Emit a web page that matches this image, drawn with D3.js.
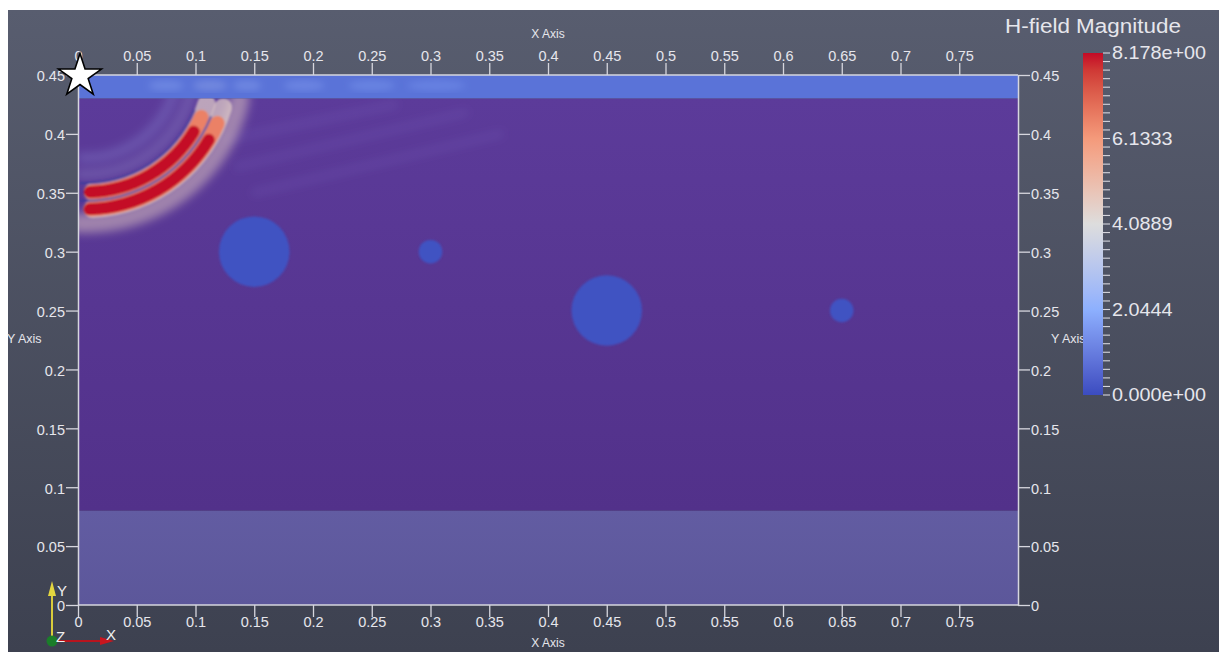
<!DOCTYPE html>
<html>
<head>
<meta charset="utf-8">
<script src="https://cdn.jsdelivr.net/npm/d3@7"></script>
<style>
  html, body { margin: 0; padding: 0; background: #ffffff; }
  svg { display: block; font-family: "Liberation Sans", Arial, sans-serif; }
</style>
</head>
<body>
<svg id="chart" width="1230" height="652"></svg>
<script>
// ---- model extents and axis ticks (metres) ----
const xDomain = [0, 0.8];
const yDomain = [0, 0.45];
const xTicks = [0, 0.05, 0.1, 0.15, 0.2, 0.25, 0.3, 0.35, 0.4, 0.45, 0.5, 0.55, 0.6, 0.65, 0.7, 0.75];
const yTicks = [0, 0.05, 0.1, 0.15, 0.2, 0.25, 0.3, 0.35, 0.4, 0.45];

// ---- material layers (top / bottom of each) ----
const layerNames  = ["surface", "host", "base"];
const layerTop    = [0.45, 0.43, 0.08];
const layerBottom = [0.43, 0.08, 0.0];

// ---- buried circular targets ----
const targetX = [0.15, 0.30, 0.45, 0.65];
const targetY = [0.30, 0.30, 0.25, 0.25];
const targetR = [0.03, 0.01, 0.03, 0.01];

// ---- transmitter position ----
const sourceX = 0.0;
const sourceY = 0.45;

// ---- H-field snapshot: expanding pulse fronts around the launch point ----
const waveCenter  = [0.007, 0.4575];
const pulseRadius = [0.1072, 0.1217];
const pulseMag    = [8.178, 8.178];
const haloRadius  = [0.078, 0.092, 0.1335];
const haloMag     = [2.5, 3.0, 4.6];
const nodeRadius  = [0.0996, 0.1145];

// faint head waves trailing along the surface layer
const headX0 = [0.125, 0.135, 0.15];
const headY0 = [0.395, 0.372, 0.35];
const headX1 = [0.27, 0.33, 0.36];
const headY1 = [0.425, 0.418, 0.40];

// bright patches carried in the surface layer
const surfX0 = [0.06, 0.098, 0.132, 0.175, 0.23, 0.28];
const surfX1 = [0.09, 0.127, 0.156, 0.21, 0.27, 0.33];
const surfMag = [2.4, 2.9, 2.5, 2.3, 2.1, 1.9];

// ---- colour bar ----
const cbarValues = [0, 2.0444, 4.0889, 6.1333, 8.178];
const cbarLabels = ["0.000e+00", "2.0444", "4.0889", "6.1333", "8.178e+00"];
const cbarColors = ["#3b4cc0", "#8db0fe", "#dddddd", "#f49a7b", "#c40a26"];
const cbarMinorCount = 40;

const svg = d3.select("#chart");
const defs = svg.append("defs");

// scales
const x = d3.scaleLinear().domain(xDomain).range([78, 1018]);
const y = d3.scaleLinear().domain(yDomain).range([605, 75]);
const cmap = d3.scaleLinear().domain(cbarValues).range(cbarColors).interpolate(d3.interpolateLab);
const px = v => x(v) - x(0);

// background panel gradient
const bg = defs.append("linearGradient").attr("id", "bg").attr("x1", 0).attr("y1", 0).attr("x2", 0).attr("y2", 1);
bg.append("stop").attr("offset", "0%").attr("stop-color", "#585d6f");
bg.append("stop").attr("offset", "100%").attr("stop-color", "#3d4150");
svg.append("rect").attr("x", 8).attr("y", 10).attr("width", 1211).attr("height", 642).attr("fill", "url(#bg)");

// layer fills
const hostGrad = defs.append("linearGradient").attr("id", "hostGrad").attr("x1", 0).attr("y1", 0).attr("x2", 0).attr("y2", 1);
hostGrad.append("stop").attr("offset", "0%").attr("stop-color", "#5c3b9a");
hostGrad.append("stop").attr("offset", "100%").attr("stop-color", "#52318a");
const baseGrad = defs.append("linearGradient").attr("id", "baseGrad").attr("x1", 0).attr("y1", 0).attr("x2", 0).attr("y2", 1);
baseGrad.append("stop").attr("offset", "0%").attr("stop-color", "#625ca2");
baseGrad.append("stop").attr("offset", "100%").attr("stop-color", "#5c579a");
const layerFill = ["#5a73d8", "url(#hostGrad)", "url(#baseGrad)"];

svg.append("g").selectAll("rect").data(layerNames).join("rect")
  .attr("x", x(xDomain[0]))
  .attr("width", x(xDomain[1]) - x(xDomain[0]))
  .attr("y", (d, i) => y(layerTop[i]))
  .attr("height", (d, i) => y(layerBottom[i]) - y(layerTop[i]))
  .attr("fill", (d, i) => layerFill[i]);

// filters
const mkBlur = (id, s) => defs.append("filter").attr("id", id)
  .attr("x", "-20%").attr("y", "-20%").attr("width", "140%").attr("height", "140%")
  .append("feGaussianBlur").attr("stdDeviation", s);
mkBlur("blurS", 1.3);
mkBlur("blurM", 3.5);
mkBlur("blurL", 5);

// surface-layer patches
defs.append("clipPath").attr("id", "surfClip").append("rect")
  .attr("x", x(0)).attr("y", y(layerTop[0]))
  .attr("width", x(0.8) - x(0)).attr("height", y(layerBottom[0]) - y(layerTop[0]));
svg.append("g").attr("clip-path", "url(#surfClip)")
  .append("g").attr("filter", "url(#blurM)")
  .selectAll("ellipse").data(surfX0).join("ellipse")
  .attr("cx", (d, i) => x((surfX0[i] + surfX1[i]) / 2))
  .attr("cy", y(0.441))
  .attr("rx", (d, i) => (x(surfX1[i]) - x(surfX0[i])) / 2)
  .attr("ry", 5)
  .attr("fill", (d, i) => cmap(surfMag[i]))
  .attr("opacity", 0.28);

// targets
svg.append("g").attr("filter", "url(#blurS)")
  .selectAll("circle").data(targetX).join("circle")
  .attr("cx", (d, i) => x(targetX[i]))
  .attr("cy", (d, i) => y(targetY[i]))
  .attr("r", (d, i) => px(targetR[i]))
  .attr("fill", "#3f52c2");

// wave field, clipped to the host layer
defs.append("clipPath").attr("id", "hostClip").append("rect")
  .attr("x", x(0)).attr("y", y(layerTop[1]))
  .attr("width", x(0.8) - x(0)).attr("height", y(layerBottom[1]) - y(layerTop[1]));
const wave = svg.append("g").attr("clip-path", "url(#hostClip)");

// head waves
wave.append("g").attr("filter", "url(#blurL)")
  .selectAll("line").data(headX0).join("line")
  .attr("x1", (d, i) => x(headX0[i])).attr("y1", (d, i) => y(headY0[i]))
  .attr("x2", (d, i) => x(headX1[i])).attr("y2", (d, i) => y(headY1[i]))
  .attr("stroke", "#8a7bd0").attr("stroke-width", 5).attr("stroke-linecap", "round")
  .attr("opacity", 0.22);

const wc = wave.append("g").attr("transform", `translate(${x(waveCenter[0])},${y(waveCenter[1])})`);
const ring = (r, w, a0, a1) => d3.arc()
  .innerRadius(px(r) - w / 2).outerRadius(px(r) + w / 2)
  .startAngle(a0).endAngle(a1).cornerRadius(w / 2)();

// broad halos
wc.append("g").attr("filter", "url(#blurL)")
  .selectAll("path").data(haloRadius).join("path")
  .attr("d", (d, i) => ring(d, i === 2 ? 20 : 10, 1.72, 3.25))
  .attr("fill", (d, i) => cmap(haloMag[i]))
  .attr("opacity", (d, i) => i === 2 ? 0.5 : 0.22);

// pulse fronts: white rim, salmon flank, red core
const pulses = wc.append("g").attr("filter", "url(#blurS)");
const pulseLayers = [
  { w: 18, a0: 1.80, f: 4.5, o: 0.7 },
  { w: 15, a0: 1.93, f: 6.6, o: 1 },
  { w: 12, a0: 2.07, f: null, o: 1 }
];
pulseLayers.forEach(L => {
  pulses.append("g").selectAll("path").data(pulseRadius).join("path")
    .attr("d", d => ring(d, L.w, L.a0, 3.16))
    .attr("fill", (d, i) => cmap(L.f === null ? pulseMag[i] : L.f))
    .attr("opacity", L.o);
});
// nodal lines between fronts
pulses.append("g").selectAll("path").data(nodeRadius).join("path")
  .attr("d", d => ring(d, 2, 1.95, 3.2))
  .attr("fill", "#343b9e")
  .attr("opacity", 0.8);

// axes
const textColor = "#e6e6ec";
const lineColor = "#d6d6de";
function styleAxis(g) {
  g.select(".domain").attr("stroke", lineColor).attr("stroke-width", 1.5);
  g.selectAll(".tick line").attr("stroke", lineColor).attr("stroke-width", 1.3);
  g.selectAll(".tick text").attr("fill", textColor).attr("font-size", 14.5)
    .attr("font-family", "Liberation Sans, Arial, sans-serif");
}
const fmt = d => String(d);

const gTop = svg.append("g").attr("transform", `translate(0,${y(0.45)})`)
  .call(d3.axisTop(x).tickValues(xTicks).tickFormat(fmt).tickSize(12).tickSizeOuter(0));
styleAxis(gTop);
gTop.select(".domain").attr("d", `M${x(0)},0H${x(0.8)}`);
gTop.selectAll(".tick text").attr("y", -14).attr("dy", null);

const gBot = svg.append("g").attr("transform", `translate(0,${y(0)})`)
  .call(d3.axisBottom(x).tickValues(xTicks).tickFormat(fmt).tickSize(12).tickSizeOuter(0));
styleAxis(gBot);
gBot.select(".domain").attr("d", `M${x(0)},0H${x(0.8)}`);
gBot.selectAll(".tick text").attr("y", 22).attr("dy", null);

const gLeft = svg.append("g").attr("transform", `translate(${x(0)},0)`)
  .call(d3.axisLeft(y).tickValues(yTicks).tickFormat(fmt).tickSize(12).tickSizeOuter(0));
styleAxis(gLeft);
gLeft.selectAll(".tick text").attr("x", -13).attr("dy", "0.4em");

const gRight = svg.append("g").attr("transform", `translate(${x(0.8)},0)`)
  .call(d3.axisRight(y).tickValues(yTicks).tickFormat(fmt).tickSize(12).tickSizeOuter(0));
styleAxis(gRight);
gRight.selectAll(".tick text").attr("x", 13).attr("dy", "0.4em");

// axis titles
const axTitle = (tx, ty, anchor) => svg.append("text").attr("x", tx).attr("y", ty)
  .attr("text-anchor", anchor).attr("fill", textColor).attr("font-size", 12).text("X Axis");
axTitle(x(0.4), 38, "middle");
axTitle(x(0.4), 647, "middle");
svg.append("text").attr("x", 7).attr("y", y(0.225) + 3).attr("fill", textColor)
  .attr("font-size", 12.5).text("Y Axis");
svg.append("text").attr("x", 1051).attr("y", y(0.225) + 3).attr("fill", textColor)
  .attr("font-size", 12.5).text("Y Axis");

// transmitter marker
svg.append("path")
  .attr("transform", `translate(${x(sourceX) + 2},${y(sourceY) + 1})`)
  .attr("d", d3.symbol(d3.symbolStar, 570)())
  .attr("fill", "#ffffff").attr("stroke", "#000000").attr("stroke-width", 1.6)
  .attr("stroke-linejoin", "miter");

// colour bar
const cb = d3.scaleLinear().domain([0, 8.178]).range([395, 53]);
const cbGrad = defs.append("linearGradient").attr("id", "cbGrad").attr("x1", 0).attr("y1", 1).attr("x2", 0).attr("y2", 0);
d3.range(0, 21).forEach(k => {
  cbGrad.append("stop").attr("offset", `${k * 5}%`).attr("stop-color", cmap(8.178 * k / 20));
});
svg.append("rect").attr("x", 1083).attr("y", cb(8.178)).attr("width", 20)
  .attr("height", cb(0) - cb(8.178)).attr("fill", "url(#cbGrad)");
const minorVals = d3.range(0, cbarMinorCount + 1).map(k => 8.178 * k / cbarMinorCount);
svg.append("g").selectAll("line").data(minorVals).join("line")
  .attr("x1", 1103).attr("x2", 1110)
  .attr("y1", d => cb(d)).attr("y2", d => cb(d))
  .attr("stroke", lineColor).attr("stroke-width", 1.1);
svg.append("g").selectAll("text").data(cbarValues).join("text")
  .attr("x", 1112).attr("y", d => cb(d)).attr("dy", "0.36em")
  .attr("fill", textColor).attr("font-size", 18)
  .attr("transform", d => `translate(${1112 * -0.1},0) scale(1.1,1)`)
  .text((d, i) => cbarLabels[i]);
svg.append("text").attr("x", 1181).attr("y", 33).attr("text-anchor", "end")
  .attr("fill", textColor).attr("font-size", 19.5)
  .attr("textLength", 176).attr("lengthAdjust", "spacingAndGlyphs")
  .text("H-field Magnitude");

// orientation triad
const tri = svg.append("g");
tri.append("line").attr("x1", 52).attr("y1", 641).attr("x2", 52).attr("y2", 592)
  .attr("stroke", "#d9cc3c").attr("stroke-width", 2);
tri.append("path").attr("d", "M48,596L56,596L52,581Z").attr("fill", "#e3d640");
tri.append("line").attr("x1", 52).attr("y1", 641).attr("x2", 104).attr("y2", 641)
  .attr("stroke", "#b8141e").attr("stroke-width", 2);
tri.append("path").attr("d", "M100,637L100,645L114,641Z").attr("fill", "#c8161e");
tri.append("circle").attr("cx", 52).attr("cy", 641).attr("r", 5.5).attr("fill", "#1b7d2a");
const triLabel = (t, tx, ty) => tri.append("text").attr("x", tx).attr("y", ty)
  .attr("fill", "#f0f0f0").attr("font-size", 15).text(t);
triLabel("Y", 57, 596);
triLabel("Z", 56, 642);
triLabel("X", 106, 640);
</script>
</body>
</html>
